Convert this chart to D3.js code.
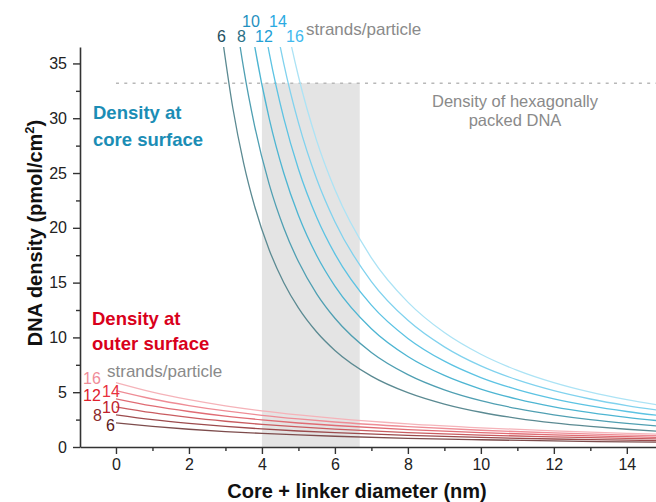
<!DOCTYPE html>
<html><head><meta charset="utf-8">
<script src="https://cdn.jsdelivr.net/npm/d3@7"></script>
<style>
html,body{margin:0;padding:0;background:#fff;}
svg{display:block;font-family:"Liberation Sans",Arial,sans-serif;}
</style></head>
<body>
<svg id="chart" width="656" height="502"></svg>
<script>
// ---------- data ----------
const strands = [6, 8, 10, 12, 14, 16];
// core + linker diameter (nm) sample points for core-surface density
const coreX = [2.9, 3.2, 3.5, 3.8, 4.2, 4.6, 5, 5.5, 6, 7, 8, 9, 10, 11, 12, 13, 14, 15];
const core6  = [37.72, 30.98, 25.89, 21.97, 17.98, 14.99, 12.69, 10.49, 8.81, 6.47, 4.96, 3.92, 3.17, 2.62, 2.20, 1.88, 1.62, 1.41];
const core8  = [50.29, 41.30, 34.52, 29.29, 23.97, 19.99, 16.92, 13.98, 11.75, 8.63, 6.61, 5.22, 4.23, 3.50, 2.94, 2.50, 2.16, 1.88];
const core10 = [62.86, 51.62, 43.15, 36.61, 29.97, 24.98, 21.14, 17.47, 14.68, 10.79, 8.26, 6.53, 5.29, 4.37, 3.67, 3.13, 2.70, 2.35];
const core12 = [75.42, 61.94, 51.78, 43.93, 35.96, 29.98, 25.37, 20.97, 17.62, 12.94, 9.91, 7.83, 6.34, 5.24, 4.40, 3.75, 3.24, 2.82];
const core14 = [87.99, 72.27, 60.41, 51.25, 41.95, 34.97, 29.60, 24.46, 20.56, 15.10, 11.56, 9.14, 7.40, 6.12, 5.14, 4.38, 3.78, 3.29];
const core16 = [100.57, 82.60, 69.05, 58.57, 47.95, 39.97, 33.83, 27.96, 23.49, 17.26, 13.22, 10.44, 8.46, 6.99, 5.87, 5.00, 4.32, 3.76];
// outer-surface density
const outerX = [0, 1, 2, 3, 4, 5, 6, 8, 10, 12, 14, 15];
const outer6  = [2.20, 1.88, 1.62, 1.41, 1.24, 1.10, 0.98, 0.79, 0.66, 0.55, 0.47, 0.44];
const outer8  = [2.94, 2.50, 2.16, 1.88, 1.65, 1.46, 1.31, 1.06, 0.87, 0.73, 0.63, 0.58];
const outer10 = [3.67, 3.13, 2.70, 2.35, 2.06, 1.83, 1.63, 1.32, 1.09, 0.92, 0.78, 0.73];
const outer12 = [4.40, 3.75, 3.24, 2.82, 2.48, 2.19, 1.96, 1.59, 1.31, 1.10, 0.94, 0.87];
const outer14 = [5.14, 4.38, 3.78, 3.29, 2.89, 2.56, 2.28, 1.85, 1.53, 1.28, 1.09, 1.02];
const outer16 = [5.87, 5.00, 4.32, 3.76, 3.30, 2.93, 2.61, 2.11, 1.75, 1.47, 1.25, 1.16];
const hexDensity = 33.2;
const bandRange = [4, 6.68];
const xTicks = [0, 2, 4, 6, 8, 10, 12, 14];
const xMinor = [1, 3, 5, 7, 9, 11, 13];
const yTicks = [0, 5, 10, 15, 20, 25, 30, 35];
const yMinor = [2.5, 7.5, 12.5, 17.5, 22.5, 27.5, 32.5];

const coreSeries = [core6, core8, core10, core12, core14, core16];
const outerSeries = [outer6, outer8, outer10, outer12, outer14, outer16];
const coreLineColors = ["#5b8a92", "#4f9fb2", "#4db5d2", "#5cc3e3", "#80d2ee", "#ace3f5"];
const coreLabelColors = ["#1e5060", "#2b7085", "#1f90c0", "#22a0d5", "#2aaae2", "#42b9ee"];
const outerLineColors = ["#7d4c4c", "#9c4a4c", "#c95c60", "#e06c74", "#ee8c95", "#f5b3b9"];
const outerLabelColors = ["#5a1818", "#8c2a2c", "#c0202c", "#e0202c", "#e8303e", "#f08c98"];

// ---------- scales ----------
const svg = d3.select("#chart");
const x = d3.scaleLinear().domain([-0.986, 14.8]).range([80, 656]);
const y = d3.scaleLinear().domain([0, 36.5]).range([447, 47]);

svg.append("defs").append("clipPath").attr("id", "plot")
  .append("rect").attr("x", x(-0.986)).attr("y", y(36.5))
  .attr("width", x(14.8) - x(-0.986)).attr("height", y(0) - y(36.5));

// gray band
svg.append("rect")
  .attr("x", x(bandRange[0])).attr("y", y(hexDensity))
  .attr("width", x(bandRange[1]) - x(bandRange[0]))
  .attr("height", y(0) - y(hexDensity))
  .attr("fill", "#e4e4e4");

// hexagonal packing line
svg.append("line")
  .attr("x1", x(0)).attr("x2", 656)
  .attr("y1", y(hexDensity)).attr("y2", y(hexDensity))
  .attr("stroke", "#b8b8b8").attr("stroke-width", 1.5)
  .attr("stroke-dasharray", "3,5.3");

const g = svg.append("g").attr("clip-path", "url(#plot)");
const line = d3.line().curve(d3.curveMonotoneX);

outerSeries.forEach((s, i) => {
  g.append("path")
    .attr("d", line(outerX.map((xv, j) => [x(xv), y(s[j])])))
    .attr("fill", "none").attr("stroke", outerLineColors[i]).attr("stroke-width", 1.3);
});
coreSeries.forEach((s, i) => {
  g.append("path")
    .attr("d", line(coreX.map((xv, j) => [x(xv), y(s[j])])))
    .attr("fill", "none").attr("stroke", coreLineColors[i]).attr("stroke-width", 1.3);
});

// ---------- axes ----------
const axisColor = "#333";
svg.append("g").attr("transform", `translate(0,${y(0)})`)
  .call(d3.axisBottom(x).tickValues(xTicks).tickSize(7).tickSizeOuter(0).tickPadding(5).tickFormat(d3.format("d")));
const xAxisMinor = svg.append("g").attr("transform", `translate(0,${y(0)})`)
  .call(d3.axisBottom(x).tickValues(xMinor).tickSize(4).tickSizeOuter(0).tickFormat(""));
xAxisMinor.select(".domain").remove();

svg.append("g").attr("transform", `translate(${x(-0.986)},0)`)
  .call(d3.axisLeft(y).tickValues(yTicks).tickSize(7).tickSizeOuter(0).tickPadding(6).tickFormat(d3.format("d")));
const yAxisMinor = svg.append("g").attr("transform", `translate(${x(-0.986)},0)`)
  .call(d3.axisLeft(y).tickValues(yMinor).tickSize(4).tickSizeOuter(0).tickFormat(""));
yAxisMinor.select(".domain").remove();

svg.selectAll(".domain").attr("stroke", axisColor).attr("stroke-width", 1.6);
svg.selectAll(".tick line").attr("stroke", axisColor).attr("stroke-width", 1.4);
svg.selectAll(".tick text").attr("fill", "#222").style("font-size", "16px")
  .style("font-family", "'Liberation Sans', Arial, sans-serif");

// axis titles
svg.append("text").attr("x", 357).attr("y", 498).attr("text-anchor", "middle")
  .style("font-size", "20px").style("font-weight", "bold").attr("fill", "#111")
  .text("Core + linker diameter (nm)");
const yt = svg.append("text").attr("transform", "translate(42,233) rotate(-90)")
  .attr("text-anchor", "middle").style("font-size", "20px").style("font-weight", "bold").attr("fill", "#111");
yt.append("tspan").text("DNA density (pmol/cm");
yt.append("tspan").attr("dy", -8).style("font-size", "13px").text("2");
yt.append("tspan").attr("dy", 8).text(")");

// annotations
const blue = "#1b8db5", red = "#d9001b", gray = "#8a8a8a";
svg.append("text").attr("x", 93).attr("y", 119).attr("fill", blue)
  .style("font-size", "18.5px").style("font-weight", "bold").text("Density at");
svg.append("text").attr("x", 93).attr("y", 146).attr("fill", blue)
  .style("font-size", "18.5px").style("font-weight", "bold").text("core surface");
svg.append("text").attr("x", 92).attr("y", 325).attr("fill", red)
  .style("font-size", "18.5px").style("font-weight", "bold").text("Density at");
svg.append("text").attr("x", 92).attr("y", 350).attr("fill", red)
  .style("font-size", "18.5px").style("font-weight", "bold").text("outer surface");

svg.append("text").attr("x", 306).attr("y", 35).attr("fill", gray)
  .style("font-size", "17px").text("strands/particle");
svg.append("text").attr("x", 107).attr("y", 377).attr("fill", gray)
  .style("font-size", "17px").text("strands/particle");

svg.append("text").attr("x", 515).attr("y", 107).attr("text-anchor", "middle").attr("fill", gray)
  .style("font-size", "16.5px").text("Density of hexagonally");
svg.append("text").attr("x", 515).attr("y", 126).attr("text-anchor", "middle").attr("fill", gray)
  .style("font-size", "16.5px").text("packed DNA");

// strand labels for core curves
const coreLabelPos = [[217, 42], [237, 42], [242, 27], [255, 42], [269, 27], [286, 42]];
strands.forEach((n, i) => {
  svg.append("text").attr("x", coreLabelPos[i][0]).attr("y", coreLabelPos[i][1])
    .attr("fill", coreLabelColors[i]).style("font-size", "16px").text(n);
});
// strand labels for outer curves
const outerLabelPos = [[106, 431], [93, 421], [102, 413], [83, 401], [102, 397], [83, 384]];
strands.forEach((n, i) => {
  svg.append("text").attr("x", outerLabelPos[i][0]).attr("y", outerLabelPos[i][1])
    .attr("fill", outerLabelColors[i]).style("font-size", "16px").text(n);
});
</script>
</body></html>
